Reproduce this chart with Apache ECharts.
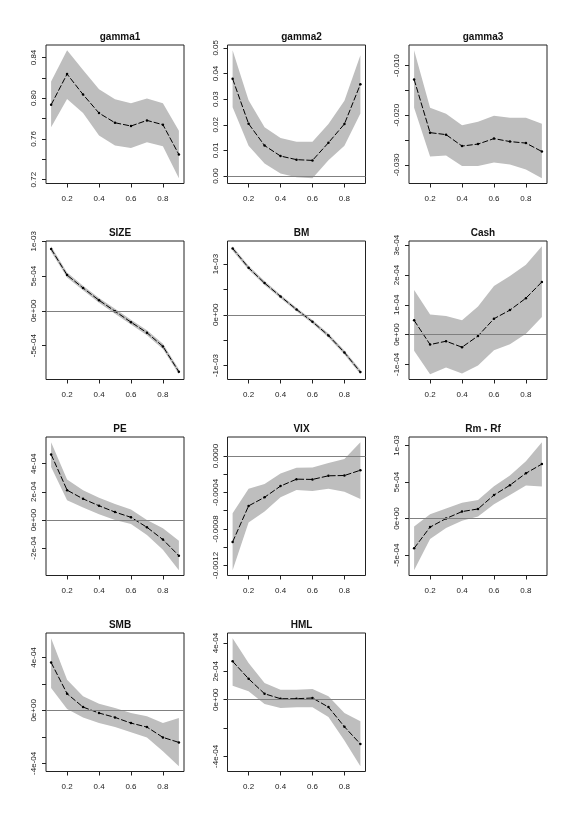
<!DOCTYPE html>
<html>
<head>
<meta charset="utf-8">
<script src="https://cdn.jsdelivr.net/npm/echarts@6/dist/echarts.min.js"></script>
<style>
  html, body { margin: 0; background: #fff; }
  #chart { width: 579px; height: 818px; }
</style>
</head>
<body>
<div id="chart"></div>
<script>
// quantile levels on the x axis
const xs = [0.1, 0.2, 0.3, 0.4, 0.5, 0.6, 0.7, 0.8, 0.9]
const xTicks = [0.2, 0.4, 0.6, 0.8]

// estimates with upper / lower bands
const gamma1Est = [0.7935, 0.8237, 0.8036, 0.7854, 0.7759, 0.7727, 0.7782, 0.774, 0.7447]
const gamma1Hi = [0.8163, 0.8472, 0.8276, 0.8088, 0.799, 0.7951, 0.7997, 0.7951, 0.7681]
const gamma1Lo = [0.7714, 0.7993, 0.7854, 0.7633, 0.7535, 0.7512, 0.7567, 0.7528, 0.7213]

const gamma2Est = [0.0379, 0.0204, 0.0119, 0.0078, 0.0064, 0.0061, 0.013, 0.0203, 0.0358]
const gamma2Hi = [0.0491, 0.0296, 0.019, 0.0148, 0.0134, 0.0134, 0.0203, 0.0294, 0.0471]
const gamma2Lo = [0.0268, 0.0118, 0.0049, 0.001, -0.0005, -0.0009, 0.0062, 0.0118, 0.0244]

const gamma3Est = [-0.0128, -0.0235, -0.0239, -0.0262, -0.0258, -0.0247, -0.0253, -0.0256, -0.0273]
const gamma3Hi = [-0.0069, -0.0185, -0.0197, -0.022, -0.0213, -0.0201, -0.0205, -0.0205, -0.0217]
const gamma3Lo = [-0.0185, -0.0283, -0.0281, -0.0302, -0.0302, -0.0295, -0.0299, -0.0309, -0.0327]

const sizeEst = [8.9e-4, 5.14e-4, 3.29e-4, 1.52e-4, -0.05e-4, -1.62e-4, -3.14e-4, -5.1e-4, -8.76e-4]
const sizeHi = [9.3e-4, 5.5e-4, 3.62e-4, 1.86e-4, 0.3e-4, -1.28e-4, -2.78e-4, -4.72e-4, -8.4e-4]
const sizeLo = [8.5e-4, 4.78e-4, 2.96e-4, 1.18e-4, -0.4e-4, -1.96e-4, -3.5e-4, -5.48e-4, -9.12e-4]

const bmEst = [1.309e-3, 0.928e-3, 0.625e-3, 0.362e-3, 0.105e-3, -0.138e-3, -0.408e-3, -0.743e-3, -1.13e-3]
const bmHi = [1.354e-3, 0.968e-3, 0.665e-3, 0.397e-3, 0.14e-3, -0.103e-3, -0.368e-3, -0.703e-3, -1.085e-3]
const bmLo = [1.264e-3, 0.888e-3, 0.585e-3, 0.327e-3, 0.07e-3, -0.173e-3, -0.448e-3, -0.783e-3, -1.175e-3]

const cashEst = [0.478e-4, -0.333e-4, -0.222e-4, -0.422e-4, -0.044e-4, 0.533e-4, 0.822e-4, 1.222e-4, 1.767e-4]
const cashHi = [1.5e-4, 0.678e-4, 0.622e-4, 0.478e-4, 0.944e-4, 1.633e-4, 1.967e-4, 2.344e-4, 2.967e-4]
const cashLo = [-0.544e-4, -1.333e-4, -1.1e-4, -1.3e-4, -1.033e-4, -0.522e-4, -0.322e-4, 0.033e-4, 0.589e-4]

const peEst = [4.66e-4, 2.12e-4, 1.5e-4, 1.01e-4, 0.56e-4, 0.19e-4, -0.52e-4, -1.39e-4, -2.54e-4]
const peHi = [5.53e-4, 2.87e-4, 2.12e-4, 1.58e-4, 1.13e-4, 0.75e-4, 0.0, -0.59e-4, -1.48e-4]
const peLo = [3.76e-4, 1.41e-4, 0.89e-4, 0.4e-4, 0.0, -0.28e-4, -1.06e-4, -2.12e-4, -3.58e-4]

const vixEst = [-9.42e-4, -5.47e-4, -4.53e-4, -3.3e-4, -2.54e-4, -2.57e-4, -2.17e-4, -2.14e-4, -1.56e-4]
const vixHi = [-6.27e-4, -3.59e-4, -3.08e-4, -1.92e-4, -1.3e-4, -1.27e-4, -0.76e-4, -0.33e-4, 1.52e-4]
const vixLo = [-12.54e-4, -7.28e-4, -6.09e-4, -4.53e-4, -3.73e-4, -3.84e-4, -3.59e-4, -3.91e-4, -4.71e-4]

const rmrfEst = [-4.07e-4, -1.17e-4, 0.0, 0.95e-4, 1.31e-4, 3.21e-4, 4.56e-4, 6.19e-4, 7.45e-4]
const rmrfHi = [-1.08e-4, 0.59e-4, 1.36e-4, 2.17e-4, 2.53e-4, 4.43e-4, 5.87e-4, 7.82e-4, 10.45e-4]
const rmrfLo = [-7.09e-4, -2.8e-4, -1.31e-4, -0.32e-4, 0.27e-4, 1.94e-4, 3.21e-4, 4.52e-4, 4.38e-4]

const smbEst = [3.62e-4, 1.26e-4, 0.25e-4, -0.2e-4, -0.53e-4, -0.96e-4, -1.26e-4, -2.04e-4, -2.42e-4]
const smbHi = [5.46e-4, 2.31e-4, 1.06e-4, 0.5e-4, 0.18e-4, -0.2e-4, -0.45e-4, -0.96e-4, -0.58e-4]
const smbLo = [1.69e-4, 0.1e-4, -0.53e-4, -0.96e-4, -1.26e-4, -1.66e-4, -2.04e-4, -3.09e-4, -4.23e-4]

const hmlEst = [2.71e-4, 1.48e-4, 0.42e-4, 0.07e-4, 0.07e-4, 0.12e-4, -0.52e-4, -1.91e-4, -3.13e-4]
const hmlHi = [4.35e-4, 2.59e-4, 1.18e-4, 0.71e-4, 0.71e-4, 0.75e-4, 0.24e-4, -0.94e-4, -1.53e-4]
const hmlLo = [0.99e-4, 0.59e-4, -0.31e-4, -0.59e-4, -0.54e-4, -0.54e-4, -1.22e-4, -2.89e-4, -4.71e-4]

// y ticks (all drawn) and the ones that carry a label
const gamma1Ticks = [0.72, 0.74, 0.76, 0.78, 0.80, 0.82, 0.84]
const gamma1Labels = [0.72, 0.76, 0.80, 0.84]
const gamma2Ticks = [0, 0.01, 0.02, 0.03, 0.04, 0.05]
const gamma3Ticks = [-0.030, -0.025, -0.020, -0.015, -0.010]
const gamma3Labels = [-0.030, -0.020, -0.010]
const sizeTicks = [-5e-4, 0, 5e-4, 1e-3]
const bmTicks = [-1e-3, -5e-4, 0, 5e-4, 1e-3]
const bmLabels = [-1e-3, 0, 1e-3]
const cashTicks = [-1e-4, 0, 1e-4, 2e-4, 3e-4]
const peTicks = [-2e-4, 0, 2e-4, 4e-4]
const vixTicks = [-0.0012, -0.0010, -0.0008, -0.0006, -0.0004, -0.0002, 0]
const vixLabels = [-0.0012, -0.0008, -0.0004, 0]
const rmrfTicks = [-5e-4, 0, 5e-4, 1e-3]
const smbTicks = [-4e-4, -2e-4, 0, 2e-4, 4e-4]
const smbLabels = [-4e-4, 0, 4e-4]
const hmlTicks = [-4e-4, -2e-4, 0, 2e-4, 4e-4]
const hmlLabels = [-4e-4, 0, 2e-4, 4e-4]

// R style 5e-04 / 0e+00 labels
const sci = (v) => {
  if (Math.abs(v) < 1e-12) return '0e+00'
  const e = Math.floor(Math.log10(Math.abs(v)) + 1e-9)
  const m = Math.round(v / Math.pow(10, e))
  return m + 'e' + (e < 0 ? '-' : '+') + String(Math.abs(e)).padStart(2, '0')
}
const fixed = (d) => (v) => (Math.abs(v) < 1e-12 ? 0 : v).toFixed(d)

const panels = [
  { name: 'gamma1', est: gamma1Est, hi: gamma1Hi, lo: gamma1Lo, ticks: gamma1Ticks, labels: gamma1Labels, fmt: fixed(2), zero: false },
  { name: 'gamma2', est: gamma2Est, hi: gamma2Hi, lo: gamma2Lo, ticks: gamma2Ticks, labels: gamma2Ticks, fmt: fixed(2), zero: true },
  { name: 'gamma3', est: gamma3Est, hi: gamma3Hi, lo: gamma3Lo, ticks: gamma3Ticks, labels: gamma3Labels, fmt: fixed(3), zero: false },
  { name: 'SIZE', est: sizeEst, hi: sizeHi, lo: sizeLo, ticks: sizeTicks, labels: sizeTicks, fmt: sci, zero: true },
  { name: 'BM', est: bmEst, hi: bmHi, lo: bmLo, ticks: bmTicks, labels: bmLabels, fmt: sci, zero: true },
  { name: 'Cash', est: cashEst, hi: cashHi, lo: cashLo, ticks: cashTicks, labels: cashTicks, fmt: sci, zero: true },
  { name: 'PE', est: peEst, hi: peHi, lo: peLo, ticks: peTicks, labels: peTicks, fmt: sci, zero: true },
  { name: 'VIX', est: vixEst, hi: vixHi, lo: vixLo, ticks: vixTicks, labels: vixLabels, fmt: fixed(4), zero: true },
  { name: 'Rm - Rf', est: rmrfEst, hi: rmrfHi, lo: rmrfLo, ticks: rmrfTicks, labels: rmrfTicks, fmt: sci, zero: true },
  { name: 'SMB', est: smbEst, hi: smbHi, lo: smbLo, ticks: smbTicks, labels: smbLabels, fmt: sci, zero: true },
  { name: 'HML', est: hmlEst, hi: hmlHi, lo: hmlLo, ticks: hmlTicks, labels: hmlLabels, fmt: sci, zero: true }
]

const colLeft = [46, 227.5, 409]
const rowTop = [45, 241, 437, 633]
const W = 138
const H = 138.5
const textColor = '#222'
const font = 'Liberation Sans, Arial, Helvetica, sans-serif'

const grids = []
const xAxes = []
const yAxes = []
const titles = []
const series = []

panels.forEach((p, i) => {
  const left = colLeft[i % 3]
  const top = rowTop[Math.floor(i / 3)]
  grids.push({ left: left, top: top, width: W, height: H, show: true, borderColor: '#222', borderWidth: 1, backgroundColor: 'transparent' })
  titles.push({
    text: p.name, left: left + W / 2, top: top - 18, textAlign: 'center',
    textStyle: { fontSize: 10, fontWeight: 'bold', color: '#111', fontFamily: font }
  })

  // 4% padding like R's default axis style
  const lo = Math.min(...p.lo), hi = Math.max(...p.hi)
  const pad = (hi - lo) * 0.04

  xAxes.push({
    gridIndex: i, type: 'value', min: 0.068, max: 0.932,
    axisLine: { show: false, onZero: false }, splitLine: { show: false },
    axisTick: { show: true, length: 4, customValues: xTicks, lineStyle: { color: textColor } },
    axisLabel: { customValues: xTicks, margin: 11, fontSize: 8, color: textColor, fontFamily: font, formatter: (v) => v.toFixed(1) }
  })
  yAxes.push({
    gridIndex: i, type: 'value', min: lo - pad, max: hi + pad,
    axisLine: { show: false, onZero: false }, splitLine: { show: false },
    axisTick: { show: true, length: 4, customValues: p.ticks, lineStyle: { color: textColor } },
    axisLabel: {
      customValues: p.labels, rotate: 90, align: 'center', verticalAlign: 'bottom', margin: 8,
      fontSize: 8, color: textColor, fontFamily: font, formatter: p.fmt
    }
  })

  series.push({
    type: 'custom', xAxisIndex: i, yAxisIndex: i, silent: true, z: 1,
    data: xs.map((x, k) => [x, p.hi[k], p.lo[k]]),
    encode: { x: 0, y: [1, 2] },
    renderItem: (params, api) => {
      if (params.dataIndex !== 0) return
      const pts = []
      xs.forEach((x, k) => pts.push(api.coord([x, p.hi[k]])))
      for (let k = xs.length - 1; k >= 0; k--) pts.push(api.coord([xs[k], p.lo[k]]))
      return { type: 'polygon', shape: { points: pts }, style: { fill: '#BEBEBE' } }
    }
  })

  const line = {
    type: 'line', xAxisIndex: i, yAxisIndex: i, z: 3,
    data: xs.map((x, k) => [x, p.est[k]]),
    symbol: 'circle', symbolSize: 2.5, showSymbol: true,
    itemStyle: { color: '#000' },
    lineStyle: { color: '#000', width: 1, type: [6, 2] }
  }
  if (p.zero) {
    line.markLine = {
      silent: true, symbol: 'none', label: { show: false },
      lineStyle: { color: '#808080', width: 1, type: 'solid' },
      data: [{ yAxis: 0 }]
    }
  }
  series.push(line)
})

const chart = echarts.init(document.getElementById('chart'))
chart.setOption({
  animation: false,
  backgroundColor: '#fff',
  title: titles,
  grid: grids,
  xAxis: xAxes,
  yAxis: yAxes,
  series: series
})
</script>
</body>
</html>
